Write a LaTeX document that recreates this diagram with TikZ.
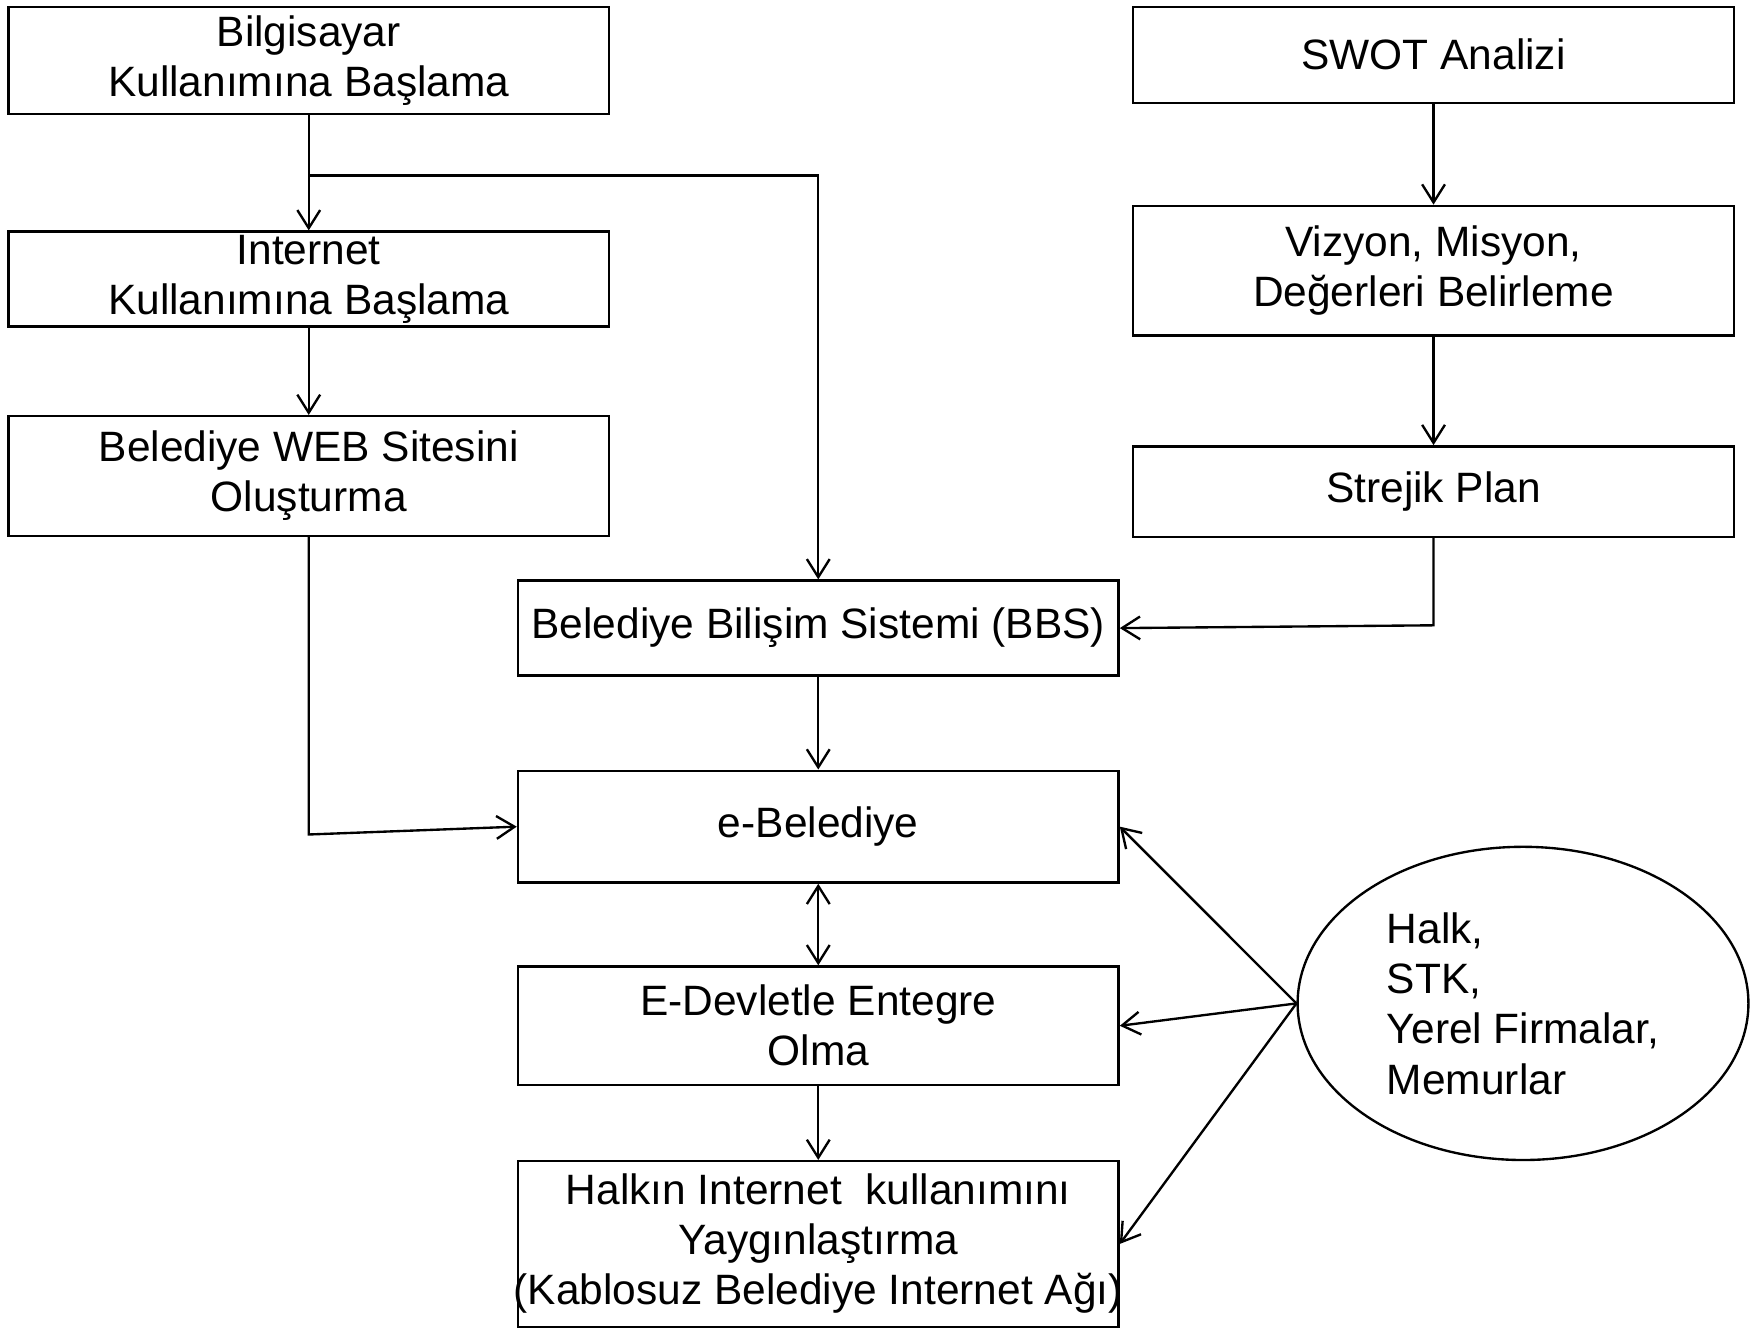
\documentclass[tikz,border=0pt]{standalone}
\usepackage{fontspec}
\setmainfont{Liberation Sans}
\usetikzlibrary{arrows.meta, positioning, calc, shapes.geometric}

\begin{document}
\begin{tikzpicture}[>={Straight Barb[length=4.6pt,width=5.8pt]},
    box/.style={draw, line width=0.6pt, minimum width=5.37cm, inner sep=0pt, align=center,
      font=\fontsize{10.8}{12.7}\selectfont},
    link/.style={line width=0.6pt}]
      \useasboundingbox (0,0) rectangle (15.68,-11.90);
      \node[box, minimum height=0.96cm] (bilg) at (2.76,-0.54) {Bilgisayar\\Kullanımına Başlama};
      \node[box, minimum height=0.85cm] (inet) at (2.76,-2.495) {Internet\\Kullanımına Başlama};
      \node[box, minimum height=1.07cm] (web) at (2.76,-4.255) {Belediye WEB Sitesini\\Oluşturma};
      \node[box, minimum height=0.86cm] (swot) at (12.815,-0.49) {SWOT Analizi};
      \node[box, minimum height=1.16cm] (vizyon) at (12.815,-2.42) {Vizyon, Misyon,\\Değerleri Belirleme};
      \node[box, minimum height=0.81cm] (plan) at (12.815,-4.395) {Strejik Plan};
      \node[box, minimum height=0.85cm] (bbs) at (7.315,-5.615) {Belediye Bilişim Sistemi (BBS)};
      \node[box, minimum height=1.00cm] (ebel) at (7.315,-7.39) {e-Belediye};
      \node[box, minimum height=1.06cm] (edev) at (7.315,-9.17) {E-Devletle Entegre\\Olma};
      \node[box, minimum height=1.48cm] (halkin) at (7.315,-11.12) {Halkın Internet~ kullanımını\\Yaygınlaştırma\\\makebox[5.2cm]{(Kablosuz Belediye Internet Ağı)}};
      \node[draw, ellipse, line width=0.6pt, minimum width=4.03cm, minimum height=2.80cm, inner sep=0pt,
        align=left, font=\fontsize{10.8}{12.8}\selectfont] (halk) at (13.615,-8.97) {Halk,\\STK,\\Yerel Firmalar,\\Memurlar};

      \coordinate (br) at (2.76,-1.57);
      \coordinate (w1) at (2.76,-7.46);
      \coordinate (p1) at (12.815,-5.59);

      \draw[link,->] (bilg) -- (inet);
      \draw[link,->] (br) -| (bbs.north);
      \draw[link,->] (inet) -- (web);
      \draw[link,->] (web.south) -- (w1) -- (ebel.west);
      \draw[link,->] (swot) -- (vizyon);
      \draw[link,->] (vizyon) -- (plan);
      \draw[link,->] (plan.south) -- (p1) -- (bbs.east);
      \draw[link,->] (bbs) -- (ebel);
      \draw[link,<->] (ebel) -- (edev);
      \draw[link,->] (edev) -- (halkin);
      \draw[link,->] (halk.west) -- (ebel.east);
      \draw[link,->] (halk.west) -- (edev.east);
      \draw[link,->] (halk.west) -- (halkin.east);
\end{tikzpicture}
\end{document}
